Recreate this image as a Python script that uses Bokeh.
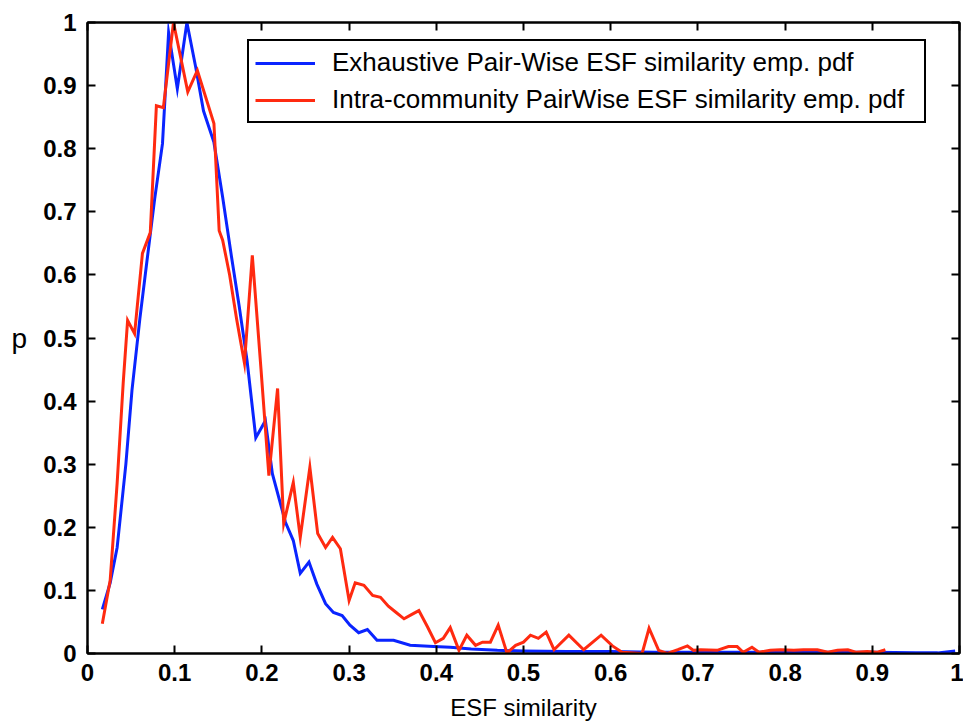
from bokeh.plotting import figure
from bokeh.models import (LinearAxis, Legend, LegendItem, CustomJSTickFormatter,
                          FixedTicker, Range1d)
from bokeh.embed import file_html
from bokeh.resources import INLINE

# ---------------- data ----------------
blue_x = [0.017, 0.026, 0.034, 0.044, 0.051, 0.06, 0.068, 0.077, 0.086, 0.093,
          0.103, 0.114, 0.124, 0.133, 0.145, 0.155, 0.165, 0.174, 0.183, 0.193,
          0.204, 0.212, 0.227, 0.236, 0.244, 0.254, 0.263, 0.273, 0.282, 0.292,
          0.301, 0.311, 0.321, 0.332, 0.351, 0.37, 0.397, 0.416, 0.44, 0.47,
          0.5, 0.55, 0.6, 0.65, 0.7, 0.75, 0.8, 0.85, 0.9, 0.95,
          0.975, 0.995]
blue_y = [0.07, 0.112, 0.168, 0.30, 0.417, 0.53, 0.62, 0.72, 0.808, 0.984,
          0.895, 1.0, 0.93, 0.86, 0.81, 0.723, 0.63, 0.55, 0.464, 0.342,
          0.369, 0.285, 0.208, 0.179, 0.127, 0.145, 0.11, 0.079, 0.065, 0.06,
          0.045, 0.033, 0.038, 0.021, 0.021, 0.013, 0.011, 0.01, 0.007, 0.005,
          0.004, 0.003, 0.003, 0.002, 0.002, 0.002, 0.002, 0.002, 0.002, 0.001,
          0.001, 0.004]

red_x = [0.017, 0.026, 0.034, 0.041, 0.046, 0.054, 0.063, 0.072, 0.079, 0.087,
         0.0986, 0.115, 0.126, 0.145, 0.151, 0.155, 0.163, 0.171, 0.18, 0.189,
         0.199, 0.208, 0.218, 0.225, 0.236, 0.244, 0.255, 0.264, 0.273, 0.281,
         0.29, 0.3, 0.307, 0.317, 0.327, 0.336, 0.345, 0.354, 0.363, 0.372,
         0.38, 0.39, 0.399, 0.408, 0.416, 0.426, 0.435, 0.445, 0.453, 0.462,
         0.471, 0.481, 0.491, 0.5, 0.508, 0.517, 0.526, 0.535, 0.552, 0.569,
         0.589, 0.602, 0.613, 0.636, 0.644, 0.655, 0.665, 0.677, 0.688, 0.695,
         0.703, 0.722, 0.735, 0.745, 0.752, 0.762, 0.77, 0.783, 0.795, 0.81,
         0.821, 0.837, 0.849, 0.86, 0.872, 0.881, 0.894, 0.906, 0.915]
red_y = [0.047, 0.116, 0.27, 0.43, 0.528, 0.507, 0.634, 0.667, 0.868, 0.865,
         1.0, 0.89, 0.924, 0.84, 0.67, 0.655, 0.6, 0.53, 0.46, 0.631,
         0.45, 0.282, 0.42, 0.206, 0.271, 0.184, 0.295, 0.19, 0.168, 0.184,
         0.166, 0.084, 0.112, 0.108, 0.092, 0.089, 0.075, 0.065, 0.055, 0.062,
         0.068, 0.042, 0.017, 0.024, 0.041, 0.005, 0.029, 0.013, 0.018, 0.018,
         0.045, 0.001, 0.013, 0.018, 0.029, 0.024, 0.034, 0.006, 0.029, 0.006,
         0.029, 0.012, 0.002, 0.0, 0.04, 0.005, 0.0, 0.006, 0.012, 0.005,
         0.006, 0.005, 0.011, 0.011, 0.002, 0.01, 0.002, 0.005, 0.006, 0.005,
         0.006, 0.006, 0.002, 0.005, 0.006, 0.002, 0.003, 0.002, 0.006]

x_ticks = [0.0, 0.1, 0.2, 0.3, 0.4, 0.5, 0.6, 0.7, 0.8, 0.9, 1.0]
y_ticks = [0.0, 0.1, 0.2, 0.3, 0.4, 0.5, 0.6, 0.7, 0.8, 0.9, 1.0]

blue_label = "Exhaustive Pair-Wise ESF similarity emp. pdf"
red_label = "Intra-community PairWise ESF similarity emp. pdf"
x_title = "ESF similarity"
y_title = "p"

# ---------------- figure ----------------
FONT = "Liberation Sans"
BLUE = "#0a24ff"
RED = "#ff2a10"

p = figure(width=963, height=723,
           x_range=Range1d(0, 1), y_range=Range1d(0, 1),
           output_backend="svg", toolbar_location=None,
           min_border_left=87, min_border_right=4,
           min_border_top=22, min_border_bottom=10,
           background_fill_color="white", border_fill_color="white")
p.xgrid.visible = False
p.ygrid.visible = False
p.outline_line_color = "black"
p.outline_line_width = 2

fmt = CustomJSTickFormatter(code="return tick.toFixed(1).replace(/\\.0$/, '');")
blank_fmt = CustomJSTickFormatter(code="return '';")


def style_axis(ax, ticks, labels=True):
    ax.ticker = FixedTicker(ticks=ticks)
    ax.axis_line_color = "black"
    ax.axis_line_width = 2
    ax.major_tick_in = 8
    ax.major_tick_out = 0
    ax.major_tick_line_width = 2
    ax.major_tick_line_color = "black"
    ax.minor_tick_line_color = None
    if labels:
        ax.formatter = fmt
        ax.major_label_text_font = FONT
        ax.major_label_text_font_style = "bold"
        ax.major_label_text_font_size = "24px"
        ax.major_label_text_color = "black"
    else:
        ax.formatter = blank_fmt
        ax.major_label_text_font_size = "1px"
        ax.major_label_standoff = 0


style_axis(p.xaxis[0], x_ticks)
style_axis(p.yaxis[0], y_ticks)
p.xaxis[0].major_label_standoff = 10
p.yaxis[0].major_label_standoff = 11

p.xaxis[0].axis_label = x_title
p.xaxis[0].axis_label_text_font = FONT
p.xaxis[0].axis_label_text_font_style = "normal"
p.xaxis[0].axis_label_text_font_size = "24px"
p.xaxis[0].axis_label_standoff = 10
p.xaxis[0].axis_label_text_color = "black"

p.yaxis[0].axis_label = y_title
p.yaxis[0].axis_label_orientation = "horizontal"
p.yaxis[0].axis_label_text_font = FONT
p.yaxis[0].axis_label_text_font_style = "normal"
p.yaxis[0].axis_label_text_font_size = "28px"
p.yaxis[0].axis_label_standoff = 13
p.yaxis[0].axis_label_text_color = "black"

top_ax = LinearAxis()
style_axis(top_ax, x_ticks, labels=False)
p.add_layout(top_ax, "above")
right_ax = LinearAxis()
style_axis(right_ax, y_ticks, labels=False)
p.add_layout(right_ax, "right")

r_blue = p.line(blue_x, blue_y, line_color=BLUE, line_width=3, line_join="miter")
r_red = p.line(red_x, red_y, line_color=RED, line_width=3, line_join="miter")

legend = Legend(items=[LegendItem(label=blue_label, renderers=[r_blue]),
                       LegendItem(label=red_label, renderers=[r_red])],
                location=(160, 530), margin=0, padding=6, spacing=6,
                glyph_width=60, glyph_height=22, label_height=22,
                label_standoff=17, label_width=586,
                label_text_font=FONT, label_text_font_size="26px",
                label_text_color="black",
                border_line_color="black", border_line_width=2,
                border_line_alpha=1.0,
                background_fill_color="white", background_fill_alpha=1.0)
p.add_layout(legend)

open("out.html", "w").write(file_html(p, INLINE))
